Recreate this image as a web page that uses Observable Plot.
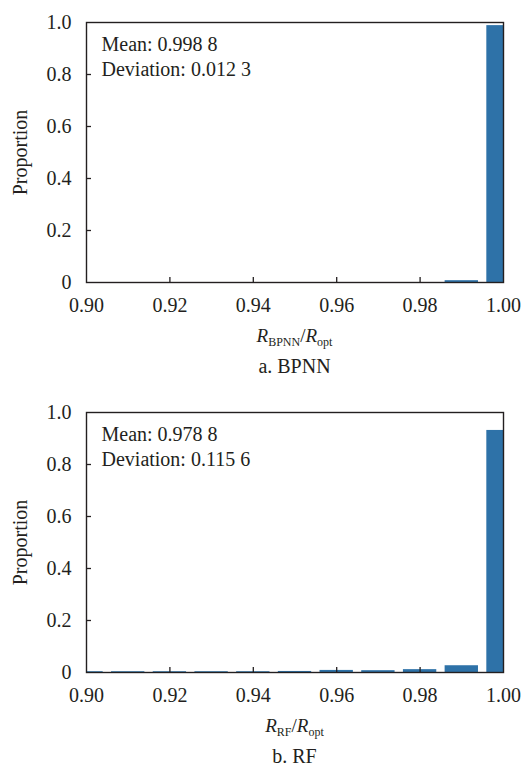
<!DOCTYPE html>
<html><head><meta charset="utf-8">
<script src="https://cdn.jsdelivr.net/npm/d3@7"></script>
<script src="https://cdn.jsdelivr.net/npm/@observablehq/plot@0.6"></script>
<style>
body{margin:0;background:#fff;font-family:'Liberation Serif', serif;}
#wrap{position:relative;width:521px;height:766px;font-family:'Liberation Serif', serif;color:#231f20;}
.txt{position:absolute;left:86px;width:417px;text-align:center;font-family:'Liberation Serif', serif;white-space:nowrap;}
.xt{font-size:19px;line-height:20px;}
.xt i{font-style:italic;}
.xt .sb{font-size:12px;position:relative;top:4px;}
.cap{font-size:20px;line-height:20px;}
.panel{position:absolute;left:0;}
</style></head><body>
<div id="wrap">
  <div class="panel" id="p0" style="top:0px"></div>
  <div class="txt xt" style="top:326px"><i>R</i><span class="sb" id="s0">BPNN</span>/<i>R</i><span class="sb">opt</span></div>
  <div class="txt cap" style="top:356px" id="c0">a. BPNN</div>
  <div class="panel" id="p1" style="top:390px"></div>
  <div class="txt xt" style="top:716px"><i>R</i><span class="sb" id="s1">RF</span>/<i>R</i><span class="sb">opt</span></div>
  <div class="txt cap" style="top:746px" id="c1">b. RF</div>
</div>
<script>
// Histogram bin centres (ratio R_model / R_opt)
const bins = [0.90, 0.91, 0.92, 0.93, 0.94, 0.95, 0.96, 0.97, 0.98, 0.99, 1.00];
// Proportion of samples per bin
const bpnnProportion = [0, 0, 0, 0, 0, 0, 0, 0, 0, 0.007, 0.988];
const rfProportion = [0.003, 0.003, 0.003, 0.003, 0.003, 0.004, 0.008, 0.007, 0.011, 0.026, 0.931];
// Statistics annotations
const bpnnStats = ["Mean: 0.998 8", "Deviation: 0.012 3"];
const rfStats = ["Mean: 0.978 8", "Deviation: 0.115 6"];
// Tick labels
const xTicks = [0.90, 0.92, 0.94, 0.96, 0.98, 1.00];
const yTicks = [0, 0.2, 0.4, 0.6, 0.8, 1.0];

const ink = "#231f20";
const barColor = "#2e72a8";
const serifFont = "'Liberation Serif', serif";

function makePanel(values, stats, holderId) {
  const data = bins.map((b, i) => ({bin: b, p: values[i]}));
  const svg = Plot.plot({
    width: 521, height: 350,
    marginTop: 22, marginBottom: 68, marginLeft: 86, marginRight: 18,
    style: {fontFamily: serifFont, fontSize: "20px", color: ink},
    x: {domain: [0.9, 1.0], ticks: xTicks, tickFormat: d => d.toFixed(2), tickSize: 0, tickPadding: 15, label: null},
    y: {domain: [0, 1], ticks: yTicks, tickFormat: d => d === 0 ? "0" : d.toFixed(1), tickSize: 0, tickPadding: 15, label: null},
    marks: [
      Plot.rectY(data, {x1: d => d.bin - 0.004, x2: d => d.bin + 0.004, y: "p", fill: barColor, clip: true}),
      Plot.ruleX(xTicks.slice(1, -1), {x: d => d, insetTop: 255, stroke: ink, strokeWidth: 1.3}),
      Plot.ruleY(yTicks.slice(1, -1), {y: d => d, insetRight: 412, stroke: ink, strokeWidth: 1.3}),
      Plot.frame({stroke: ink, strokeWidth: 1.4}),
      Plot.text([stats.join("\n")], {text: d => d, frameAnchor: "top-left", dx: 15, dy: 11, lineAnchor: "top", textAnchor: "start", lineHeight: 1.25, fontSize: 20, fill: ink}),
      Plot.text(["Proportion"], {text: d => d, frameAnchor: "left", dx: -66, rotate: -90, textAnchor: "middle", lineAnchor: "middle", fontSize: 20, fill: ink})
    ]
  });
  document.getElementById(holderId).appendChild(svg);
}

makePanel(bpnnProportion, bpnnStats, "p0");
makePanel(rfProportion, rfStats, "p1");
</script>
</body></html>
